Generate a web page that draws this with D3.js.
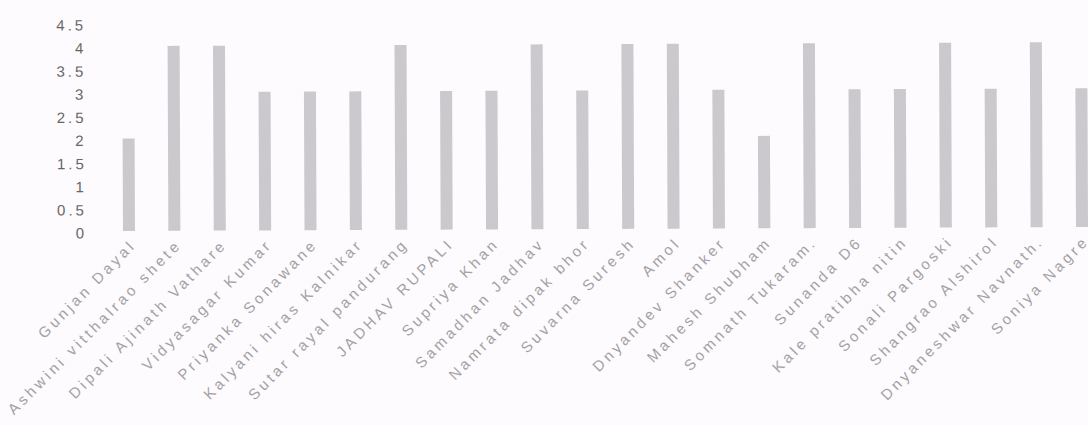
<!DOCTYPE html>
<html>
<head>
<meta charset="utf-8">
<script src="https://cdn.jsdelivr.net/npm/d3@7"></script>
<style>
  html, body { margin: 0; padding: 0; background: #fdfbfd; }
  svg { display: block; }
</style>
</head>
<body>
<svg id="chart" width="1088" height="425"></svg>
<script>
const categories = [
  "Gunjan Dayal", "Ashwini vitthalrao shete", "Dipali Ajinath Vathare", "Vidyasagar Kumar",
  "Priyanka Sonawane", "Kalyani hiras Kalnikar", "Sutar rayal pandurang", "JADHAV RUPALI",
  "Supriya Khan", "Samadhan Jadhav", "Namrata dipak bhor", "Suvarna Suresh", "Amol",
  "Dnyandev Shanker", "Mahesh Shubham", "Somnath  Tukaram.", "Sunanda D6",
  "Kale pratibha nitin", "Sonali Pargoski", "Shangrao Alshirol", "Dnyaneshwar Navnath.",
  "Soniya Nagre"
];
const values = [2, 4, 4, 3, 3, 3, 4, 3, 3, 4, 3, 4, 4, 3, 2, 4, 3, 3, 4, 3, 4, 3];
const yTicks = [0, 0.5, 1, 1.5, 2, 2.5, 3, 3.5, 4, 4.5];

const svg = d3.select("#chart");
const g = svg.append("g").attr("transform", "rotate(-0.24, 600, 230)");

const x = d3.scaleBand()
  .domain(categories)
  .range([106.3, 1104.7])
  .paddingInner(0.735)
  .paddingOuter(0.3675);

const y = d3.scaleLinear().domain([0, 4.5]).range([229, 21]);

// bars
g.append("g").selectAll("rect")
  .data(categories.map((c, i) => ({ c, v: values[i] })))
  .join("rect")
  .attr("x", d => x(d.c))
  .attr("width", x.bandwidth())
  .attr("y", d => y(d.v))
  .attr("height", d => y(0) - y(d.v))
  .attr("fill", "#cbc9cd");

// y axis
const yAxis = d3.axisLeft(y).tickValues(yTicks).tickSize(0).tickPadding(0)
  .tickFormat(d => String(d));
const ya = g.append("g").attr("transform", "translate(87,2)").call(yAxis);
ya.select(".domain").remove();
ya.selectAll("text")
  .attr("font-family", "Liberation Sans, Arial, sans-serif")
  .attr("font-size", 15)
  .attr("letter-spacing", "3px")
  .attr("fill", "#666666");

// x axis labels
const xAxis = d3.axisBottom(x).tickSize(0).tickPadding(0);
const xa = g.append("g").attr("transform", "translate(0,240)").call(xAxis);
xa.select(".domain").remove();
xa.selectAll("text")
  .attr("font-family", "Liberation Sans, Arial, sans-serif")
  .attr("font-size", 15)
  .attr("letter-spacing", "3.4px")
  .attr("fill", "#a3a1a5")
  .attr("text-anchor", "end")
  .attr("dy", "0")
  .attr("y", 0)
  .attr("transform", "translate(8,4) rotate(-45)");
</script>
</body>
</html>
